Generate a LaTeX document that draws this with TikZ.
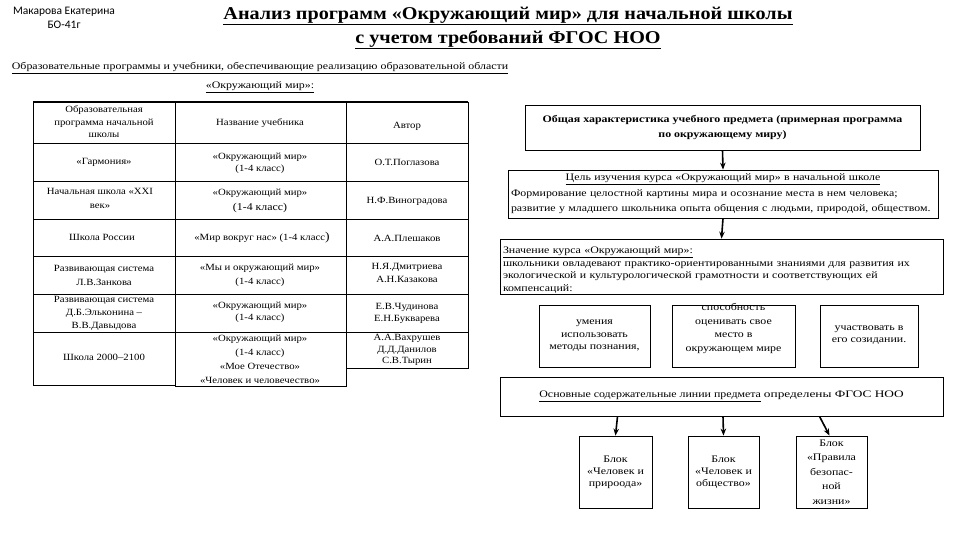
\documentclass[tikz,border=0pt]{standalone}
\usepackage{fontspec}
\usepackage{graphicx}
\setmainfont{Liberation Serif}
\newfontfamily\calib{Carlito}
\newfontfamily\tabfont[FakeStretch=1.13]{Liberation Serif}
\newfontfamily\widefont[FakeStretch=1.19]{Liberation Serif}
\newfontfamily\titlefont[FakeStretch=1.12]{Liberation Serif}
\usetikzlibrary{arrows.meta}
\tikzset{
  cell/.style={align=center,font=\tabfont\fontsize{9.5}{14}\selectfont,inner sep=0pt},
  box/.style={draw,line width=0.8pt,inner sep=3pt,font=\widefont\fontsize{10}{14.5}\selectfont},
  btext/.style={align=center,inner sep=0pt,font=\widefont\fontsize{10}{14}\selectfont},
  arr/.style={line width=1.6pt,-{Stealth[length=7pt,width=5.5pt]}},
  tline/.style={line width=0.8pt}
}
\newcommand{\bs}[1]{\fontsize{9.5}{#1}\selectfont}
\begin{document}
\begin{tikzpicture}[x=1pt,y=-1pt]
\useasboundingbox (0,0) rectangle (960,540);
% header
\node[align=center,font=\calib\fontsize{11.5}{14}\selectfont] (author) at (64,18) {Макарова Екатерина\\БО-41г};
\node[align=center,font=\titlefont\bfseries\fontsize{18}{24}\selectfont] (title) at (508,28) {\underline{Анализ программ «Окружающий мир» для начальной школы}\\\underline{с учетом требований ФГОС НОО}};
\node[align=center,font=\widefont\fontsize{10}{19}\selectfont] (sub) at (260,78) {\underline{Образовательные программы и учебники, обеспечивающие реализацию образовательной области}\\\underline{«Окружающий мир»:}};
% table
\draw[tline] (33,102) rectangle (175,385);
\draw[tline] (175,102) rectangle (346,386);
\draw[tline] (346,102) rectangle (468,368);
\draw[line width=1.8pt] (33,102) -- (468,102);
\foreach \yy in {143,181,219,256,294,332} \draw[tline] (33,\yy) -- (468,\yy);
% column 1
\node[cell,font=\tabfont\bs{12.5}] (p1) at (104,122) {Образовательная\\программа начальной\\школы};
\node[cell] (p2) at (104,162) {«Гармония»};
\node[cell] (p3) at (100,198) {Начальная школа «XXI\\век»};
\node[cell] (p4) at (102,237) {Школа России};
\node[cell] (p5) at (104,275) {Развивающая система\\Л.В.Занкова};
\node[cell,font=\tabfont\bs{13.3}] (p6) at (104,313.5) {Развивающая система\\Д.Б.Эльконина –\\В.В.Давыдова};
\node[cell] (p7) at (104,357) {Школа 2000–2100};
% column 2
\node[cell] (t1) at (260,123) {Название учебника};
\node[cell,font=\tabfont\bs{12}] (t2) at (260,163) {«Окружающий мир»\\(1-4 класс)};
\node[cell,font=\tabfont\bs{15}] (t3) at (260,200.5) {«Окружающий мир»\\{\fontsize{10.5}{15}\selectfont(1-4 класс)}};
\node[cell] (t4) at (262,238) {«Мир вокруг нас» (1-4 класс{\large)}};
\node[cell] (t5) at (260,275) {«Мы и окружающий мир»\\(1-4 класс)};
\node[cell,font=\tabfont\bs{12}] (t6) at (260,312.5) {«Окружающий мир»\\(1-4 класс)};
\node[cell] (t7) at (260,359) {«Окружающий мир»\\(1-4 класс)\\«Мое Отечество»\\«Человек и человечество»};
% column 3
\node[cell] (a1) at (407,126) {Автор};
\node[cell] (a2) at (407,162) {О.Т.Поглазова};
\node[cell] (a3) at (407,201) {Н.Ф.Виноградова};
\node[cell] (a4) at (407,238) {А.А.Плешаков};
\node[cell,font=\tabfont\bs{12.5}] (a5) at (407,273) {Н.Я.Дмитриева\\А.Н.Казакова};
\node[cell,font=\tabfont\bs{12}] (a6) at (407,313) {Е.В.Чудинова\\Е.Н.Букварева};
\node[cell,font=\tabfont\bs{11.5}] (a7) at (407,350) {А.А.Вахрушев\\Д.Д.Данилов\\С.В.Тырин};
% right side
\node[box,minimum width=395,minimum height=45,align=center,font=\widefont\bfseries\fontsize{10}{15}\selectfont] (A) at (722.5,127.5) {Общая характеристика учебного предмета (примерная программа\\по окружающему миру)};
\node[box,minimum width=430,minimum height=48,text width=424,align=left,font=\widefont\fontsize{10}{15.5}\selectfont] (B) at (723,194) {\hfill\underline{Цель изучения курса «Окружающий мир» в начальной школе}\hfill\null\\Формирование целостной картины мира и осознание места в нем человека;\\развитие у младшего школьника опыта общения с людьми, природой, обществом.};
\node[box,minimum width=443,minimum height=55] (C) at (721.5,266.5) {};
\node[btext,text width=437,align=left,font=\widefont\fontsize{10}{12.6}\selectfont] (Ct) at (721.5,270) {\underline{Значение курса «Окружающий мир»:}\\школьники овладевают практико-ориентированными знаниями для развития их\\экологической и культурологической грамотности и соответствующих ей\\компенсаций:};
\node[box,minimum width=111,minimum height=62] (D1) at (594.5,336) {};
\node[btext,font=\widefont\fontsize{10}{12.5}\selectfont] (D1t) at (594.5,336) {умения\\использовать\\методы познания,};
\node[box,minimum width=123,minimum height=62] (D2) at (733.5,336) {};
\node[btext,font=\widefont\fontsize{10}{13.7}\selectfont] (D2t) at (733.5,328.5) {способность\\оценивать свое\\место в\\окружающем мире};
\node[box,minimum width=98,minimum height=62] (D3) at (869,336) {};
\node[btext,font=\widefont\fontsize{10}{12}\selectfont] (D3t) at (869,335) {участвовать в\\его созидании.};
\node[box,minimum width=443,minimum height=39,align=center] (E) at (721.5,396.5) {\underline{Основные содержательные линии предмета} \scalebox{1.12}[1]{определены ФГОС НОО}};
\node[box,minimum width=73,minimum height=72,align=center,font=\widefont\fontsize{10}{12}\selectfont] (F1) at (615.5,472) {Блок\\«Человек и\\прироода»};
\node[box,minimum width=71,minimum height=72,align=center,font=\widefont\fontsize{10}{12}\selectfont] (F2) at (723.5,472) {Блок\\«Человек и\\общество»};
\node[box,minimum width=71,minimum height=72,align=center] (F3) at (831.5,472) {Блок\\«Правила\\безопас-\\ной\\жизни»};
\draw[arr] (A.south) -- (B.north);
\draw[arr] (B.south) -- (C.north);
\draw[arr] ([xshift=-104pt]E.south) -- (F1.north);
\draw[arr] ([xshift=1.5pt]E.south) -- (F2.north);
\draw[arr] ([xshift=98pt]E.south) -- ([xshift=-2pt]F3.north);
\end{tikzpicture}
\end{document}
